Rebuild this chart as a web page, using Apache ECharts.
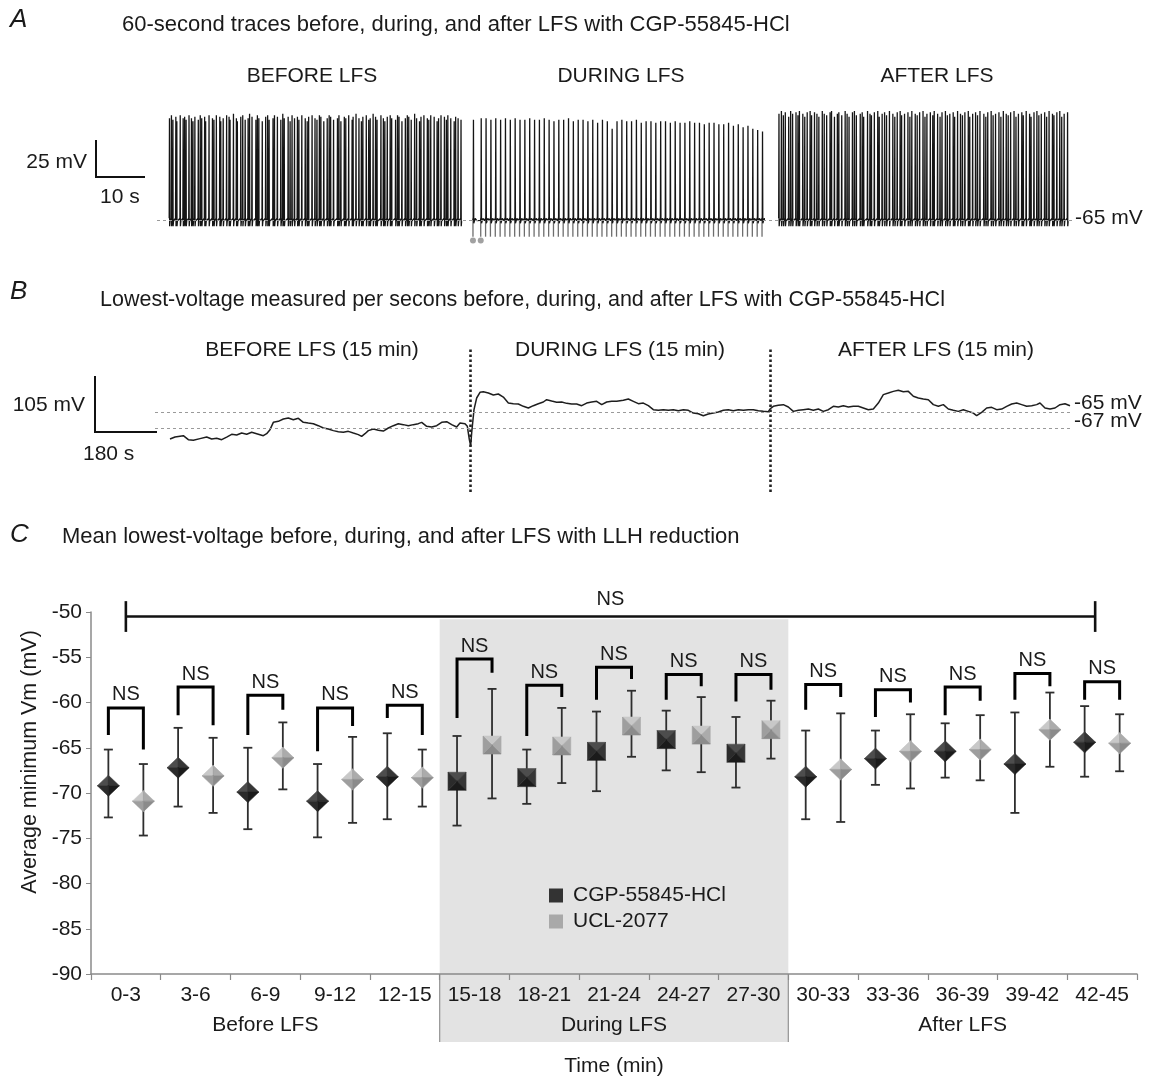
<!DOCTYPE html>
<html>
<head>
<meta charset="utf-8">
<script src="https://cdn.jsdelivr.net/npm/echarts@6/dist/echarts.min.js"></script>
<style>
  html, body { margin: 0; padding: 0; background: #fff; }
  #chart { width: 1150px; height: 1078px; }
</style>
</head>
<body>
<div id="chart"></div>
<script>
// ---------- Panel A: 60-second membrane potential traces (time s, peak mV) ----------
const spikesBefore = [
  [0.1,4],[0.5,6],[0.8,3],[1.4,5],[1.6,2],[2.3,6],[2.9,4],[3.2,5],[3.5,3],[4.1,6],[4.6,4],[4.9,2],
  [5.3,5],[6.0,3],[6.4,6],[6.7,4],[7.3,5],[7.5,2],[8.2,6],[8.9,4],[9.2,3],[9.7,6],[10.4,5],[10.6,2],
  [11.1,4],[11.8,6],[12.3,5],[12.5,3],[13.2,7],[13.8,4],[14.0,2],[14.7,5],[15.1,6],[15.6,3],[16.2,4],
  [16.5,7],[17.0,5],[17.8,3],[18.1,6],[18.4,4],[19.1,2],[19.8,5],[20.2,6],[20.5,3],[21.3,4],[21.6,6],
  [22.2,5],[22.9,3],[23.3,7],[23.6,4],[24.4,5],[24.8,2],[25.2,6],[25.7,4],[26.3,5],[26.6,3],[27.2,6],
  [27.9,4],[28.3,2],[28.6,5],[29.3,6],[29.9,4],[30.3,3],[30.8,6],[31.1,5],[31.7,2],[32.4,4],[32.8,6],
  [33.1,5],[33.7,3],[34.5,4],[34.8,6],[35.2,2],[35.9,5],[36.2,4],[36.8,6],[37.5,3],[37.7,5],[38.3,7],
  [38.9,4],[39.4,2],[39.7,5],[40.4,6],[40.9,3],[41.2,4],[41.8,7],[42.3,5],[42.6,3],[43.4,6],[43.9,4],
  [44.2,2],[44.7,5],[45.3,6],[45.6,4],[46.4,3],[46.8,6],[47.1,5],[47.7,2],[48.4,4],[48.8,6],[49.1,5],
  [49.6,3],[50.3,7],[50.7,4],[51.3,2],[51.6,5],[52.2,6],[52.9,4],[53.2,3],[53.6,6],[54.3,5],[54.9,2],
  [55.2,4],[55.7,6],[56.4,5],[56.8,3],[57.1,6],[57.7,4],[58.4,2],[58.7,5],[59.2,4],[59.8,3]
];
const stimsDuring = [
  [0.2,3],[1.8,4],[2.8,4],[3.8,3],[4.8,4],[5.8,3],[6.8,4],[7.8,3],[8.8,4],[9.8,3],[10.8,3],[11.8,4],
  [12.8,3],[13.8,3],[14.8,4],[15.8,3],[16.8,2],[17.8,3],[18.8,3],[19.8,4],[20.8,2],[21.8,3],[22.8,3],
  [23.8,2],[24.8,3],[25.8,1],[26.8,3],[27.8,2],[28.8,-3],[29.8,2],[30.8,3],[31.8,2],[32.8,2],[33.8,3],
  [34.8,1],[35.8,2],[36.8,2],[37.8,1],[38.8,2],[39.8,2],[40.8,1],[41.8,2],[42.8,1],[43.8,1],[44.8,2],
  [45.8,1],[46.8,1],[47.8,0],[48.8,1],[49.8,1],[50.8,0],[51.8,0],[52.8,1],[53.8,-1],[54.8,0],[55.8,-2],
  [56.8,-1],[57.8,-3],[58.8,-4],[59.8,-5]
];
const spikesAfter = [
  [0.2,7],[0.7,9],[1.1,6],[1.5,8],[2.2,5],[2.6,9],[3.0,7],[3.7,8],[4.1,6],[4.4,9],[5.1,7],[5.5,5],
  [6.0,8],[6.6,9],[6.9,6],[7.5,8],[8.0,7],[8.4,5],[9.1,9],[9.5,7],[10.0,6],[10.7,8],[11.0,9],[11.6,5],
  [12.2,7],[12.5,8],[13.1,6],[13.8,9],[14.2,7],[14.6,5],[15.3,8],[15.7,9],[16.1,6],[16.9,7],[17.3,8],
  [17.6,5],[18.4,9],[18.9,7],[19.2,6],[19.8,8],[20.5,9],[20.8,5],[21.4,7],[21.9,8],[22.3,6],[22.9,9],
  [23.6,7],[24.0,5],[24.5,8],[25.1,9],[25.4,6],[26.0,7],[26.7,8],[27.1,5],[27.5,9],[28.2,7],[28.6,6],
  [29.1,8],[29.8,9],[30.2,5],[30.6,7],[31.3,8],[31.8,6],[32.1,9],[32.8,7],[33.3,5],[33.7,8],[34.4,9],
  [34.8,6],[35.3,7],[36.0,8],[36.3,5],[36.9,9],[37.5,7],[37.9,6],[38.4,8],[39.1,9],[39.4,5],[40.0,7],
  [40.6,8],[41.0,6],[41.5,9],[42.3,7],[42.7,5],[43.1,8],[43.8,9],[44.2,6],[44.7,7],[45.4,8],[45.8,5],
  [46.3,9],[46.9,7],[47.3,6],[47.8,8],[48.5,9],[48.9,5],[49.4,7],[50.1,8],[50.4,6],[51.0,9],[51.7,7],
  [52.0,5],[52.6,8],[53.2,9],[53.6,6],[54.1,7],[54.8,8],[55.2,5],[55.7,9],[56.4,7],[56.7,6],[57.3,8],
  [57.9,9],[58.3,5],[58.8,7],[59.5,8]
];
const restingLevel = -65;   // mV, dotted reference in A
const markedStims = 2;      // first stimuli flagged with dots

// ---------- Panel B: lowest voltage per second (time s, mV) ----------
const lowestBefore = [
  [0,-68.38],[15,-68.13],[40,-67.96],[55,-68.46],[70,-68.54],[90,-68.33],[110,-68.13],[125,-68.38],
  [140,-68.29],[155,-68.46],[170,-68.13],[185,-67.79],[200,-67.88],[215,-67.63],[230,-67.79],[245,-67.54],
  [260,-67.71],[280,-67.96],[290,-67.71],[300,-67.21],[310,-66.29],[325,-66.17],[340,-65.88],[355,-65.75],
  [370,-65.96],[385,-65.79],[400,-66.29],[415,-66.38],[430,-66.46],[445,-66.71],[460,-67.0],[475,-67.13],
  [490,-67.33],[505,-67.46],[520,-67.54],[535,-67.42],[550,-67.63],[565,-67.83],[575,-68.04],[585,-67.71],
  [595,-67.33],[610,-67.13],[625,-67.29],[640,-67.38],[655,-67.0],[670,-66.71],[685,-66.46],[700,-66.58],
  [715,-66.71],[730,-66.58],[745,-66.46],[755,-66.29],[770,-66.79],[785,-66.88],[800,-66.71],[815,-66.29],
  [830,-66.21],[845,-66.58],[860,-66.88],[870,-66.38],[885,-66.46],[892,-66.79],[898,-68.46],[902,-69.21]
];
const lowestDuring = [
  [905,-67.63],[912,-64.71],[920,-63.25],[930,-62.54],[940,-62.46],[955,-62.63],[970,-62.88],[985,-62.75],
  [1000,-63.13],[1015,-63.88],[1030,-63.96],[1045,-64.0],[1060,-64.29],[1075,-64.5],[1090,-64.21],
  [1105,-63.96],[1120,-63.75],[1130,-63.46],[1145,-63.63],[1160,-63.79],[1175,-63.75],[1190,-63.92],
  [1205,-64.0],[1220,-64.0],[1235,-64.21],[1250,-63.88],[1265,-63.75],[1280,-63.67],[1295,-64.08],
  [1310,-63.75],[1325,-63.67],[1340,-63.67],[1360,-63.54],[1375,-63.38],[1390,-63.67],[1405,-63.96],
  [1420,-63.88],[1435,-64.21],[1450,-64.71],[1465,-64.79],[1480,-64.71],[1495,-64.79],[1510,-64.71],
  [1525,-64.83],[1540,-64.71],[1555,-64.79],[1570,-65.13],[1585,-65.21],[1600,-65.46],[1615,-65.25],
  [1630,-65.13],[1645,-65.0],[1660,-64.79],[1675,-64.71],[1690,-64.83],[1705,-64.71],[1720,-64.79],
  [1735,-64.71],[1750,-64.71],[1765,-64.83],[1780,-64.92],[1795,-64.96],[1800,-64.63]
];
const lowestAfter = [
  [1810,-64.29],[1825,-64.17],[1840,-64.08],[1855,-64.38],[1870,-64.92],[1885,-64.79],[1900,-64.71],
  [1915,-64.63],[1930,-64.79],[1945,-64.63],[1960,-64.92],[1975,-64.71],[1990,-64.29],[2005,-64.38],
  [2020,-64.21],[2035,-64.38],[2050,-64.29],[2065,-64.29],[2080,-64.5],[2095,-64.71],[2110,-64.63],
  [2125,-63.88],[2140,-62.83],[2155,-62.63],[2170,-62.42],[2185,-62.29],[2200,-62.46],[2215,-62.42],
  [2230,-63.04],[2245,-63.25],[2260,-63.38],[2275,-63.46],[2290,-64.08],[2305,-64.29],[2320,-64.08],
  [2335,-64.63],[2350,-64.79],[2365,-64.92],[2380,-64.71],[2395,-64.92],[2410,-65.13],[2420,-65.46],
  [2435,-65.04],[2450,-64.5],[2465,-64.42],[2480,-64.71],[2495,-64.63],[2510,-64.29],[2525,-64.0],
  [2540,-63.88],[2555,-64.08],[2570,-64.29],[2585,-64.21],[2600,-64.08],[2610,-63.88],[2625,-64.5],
  [2640,-64.63],[2655,-64.5],[2670,-64.08],[2685,-63.96],[2700,-64.21]
];
const phaseEdges = [900, 1800];       // s, LFS start / end
const referenceLevels = [-65, -67];   // mV

// ---------- Panel C: mean lowest voltage per 3-min bin ----------
const periods  = ['Before LFS', 'During LFS', 'After LFS'];
const timeBins = ['0-3','3-6','6-9','9-12','12-15','15-18','18-21','21-24','24-27','27-30',
                  '30-33','33-36','36-39','39-42','42-45'];
const binPeriod = [0,0,0,0,0,1,1,1,1,1,2,2,2,2,2];
const cgpMean = [-69.2,-67.2,-69.9,-70.9,-68.2,-68.7,-68.3,-65.4,-64.1,-65.6,-68.2,-66.2,-65.4,-66.8,-64.4];
const cgpLow  = [-72.7,-71.5,-74.0,-74.9,-72.9,-73.6,-71.2,-69.8,-67.5,-69.4,-72.9,-69.1,-68.3,-72.2,-68.2];
const cgpHigh = [-65.2,-62.8,-65.0,-66.8,-63.4,-63.7,-65.2,-61.0,-60.9,-61.6,-63.1,-63.1,-62.3,-61.1,-60.4];
const uclMean = [-70.9,-68.1,-66.1,-68.5,-68.3,-64.7,-64.8,-62.6,-63.6,-63.0,-67.4,-65.4,-65.2,-63.0,-64.5];
const uclLow  = [-74.7,-72.2,-69.6,-73.3,-71.5,-70.6,-68.9,-66.0,-67.7,-66.2,-73.2,-69.5,-68.6,-67.1,-67.6];
const uclHigh = [-66.8,-63.9,-62.2,-63.8,-65.2,-58.5,-60.6,-58.7,-59.4,-59.8,-61.2,-61.3,-61.4,-58.9,-61.3];
// significance brackets per bin: bar level, left arm end, right arm end (mV)
const nsTop   = [-60.6,-58.3,-59.2,-60.6,-60.3,-55.2,-58.1,-56.1,-56.9,-56.9,-58.0,-58.6,-58.3,-56.8,-57.7];
const nsLeft  = [-63.6,-61.4,-63.6,-65.4,-61.7,-61.7,-63.7,-59.7,-59.7,-59.9,-60.8,-61.6,-61.4,-59.7,-59.7];
const nsRight = [-65.2,-62.5,-60.8,-62.6,-63.6,-56.7,-59.4,-57.4,-58.2,-58.6,-59.4,-60.0,-59.8,-58.2,-59.7];
const overallSpan = [0, 13.9];   // bin index range of the overall comparison
const overallLevel = -50.5;      // mV
const seriesNames = ['CGP-55845-HCl', 'UCL-2077'];

// ---------- helpers ----------
const FONT = '"Liberation Sans", Arial, Helvetica, sans-serif';
const INK = '#1a1a1a';

function spikeTrain(spikes) {
  const pts = [];
  for (const [t, peak] of spikes) {
    pts.push([t - 0.06, -63.5], [t, peak], [t + 0.04, -69], [t + 0.12, -65.5]);
  }
  return pts;
}
function evokedTrain(stims) {
  const pts = [];
  for (const [t, peak] of stims) {
    pts.push([t - 0.05, -65], [t + 0.05, -63], [t + 0.1, peak], [t + 0.16, -67], [t + 0.45, -63.6], [t + 0.8, -65.2]);
  }
  return pts;
}
function text(x, y, str, opts) {
  opts = opts || {};
  return {
    type: 'text', x: x, y: y, rotation: opts.rotation || 0, silent: true,
    style: {
      text: str, fill: opts.color || INK,
      font: (opts.style || 'normal') + ' ' + (opts.size || 21) + 'px ' + FONT,
      textAlign: opts.align || 'left', textVerticalAlign: 'middle',
      align: opts.align || 'left', verticalAlign: 'middle'
    }
  };
}
function seg(x1, y1, x2, y2, w) {
  return { type: 'line', silent: true, shape: { x1, y1, x2, y2 }, style: { stroke: '#111', lineWidth: w || 2 } };
}

const FACES = {
  dark:  ['#4d4d4d', '#363636', '#1b1b1b', '#2b2b2b'],
  light: ['#c8c8c8', '#ababab', '#8b8b8b', '#9e9e9e']
};
function markerRender(side, faces) {
  return function (params, api) {
    const i = api.value(0);
    const c = api.coord([i, api.value(1)]);
    const lo = api.coord([i, api.value(2)]);
    const hi = api.coord([i, api.value(3)]);
    const x = c[0] + side * 17.5, y = c[1];
    const bar = { stroke: '#2e2e2e', lineWidth: 1.8 };
    const kids = [
      { type: 'line', shape: { x1: x, y1: hi[1], x2: x, y2: lo[1] }, style: bar },
      { type: 'line', shape: { x1: x - 4.5, y1: hi[1], x2: x + 4.5, y2: hi[1] }, style: bar },
      { type: 'line', shape: { x1: x - 4.5, y1: lo[1], x2: x + 4.5, y2: lo[1] }, style: bar }
    ];
    let corners;
    if (binPeriod[i] === 1) {
      const h = 9;
      corners = [[x - h, y - h], [x + h, y - h], [x + h, y + h], [x - h, y + h]];
    } else {
      const w = 11, h = 10.5;
      corners = [[x - w, y], [x, y - h], [x + w, y], [x, y + h]];
    }
    for (let k = 0; k < 4; k++) {
      kids.push({
        type: 'polygon',
        shape: { points: [corners[k], corners[(k + 1) % 4], [x, y]] },
        style: { fill: faces[k], stroke: faces[k], lineWidth: 0.6 }
      });
    }
    return { type: 'group', children: kids };
  };
}

// ---------- layout ----------
const gridsA = [
  { left: 169, top: 102, width: 293, height: 140.6 },
  { left: 472, top: 102, width: 291, height: 140.6 },
  { left: 778, top: 102, width: 292, height: 140.6 },
  { left: 157, top: 102, width: 915, height: 140.6 }
];
const gridB = { left: 155, top: 348, width: 915, height: 144 };
const gridC = { left: 91, top: 612, width: 1046, height: 363 };

const hiddenVal = (gi, min, max) => ({
  gridIndex: gi, type: 'value', min, max, show: false,
  axisLine: { show: false, onZero: false }, axisTick: { show: false }, axisLabel: { show: false }, splitLine: { show: false }
});

const duringStart = binPeriod.indexOf(1) - 0.5;
const duringEnd = binPeriod.lastIndexOf(1) + 0.5;

const option = {
  animation: false,
  backgroundColor: '#fff',
  textStyle: { fontFamily: FONT },
  grid: [...gridsA, gridB, gridC],
  xAxis: [
    hiddenVal(0, 0, 60), hiddenVal(1, 0, 60), hiddenVal(2, 0, 60), hiddenVal(3, 0, 1),
    hiddenVal(4, -45, 2700),
    {
      gridIndex: 5, type: 'category', data: timeBins, boundaryGap: true, position: 'bottom',
      axisLine: { onZero: false, lineStyle: { color: '#8a8a8a', width: 1.5 } },
      axisTick: { show: true, length: 6, lineStyle: { color: '#8a8a8a', width: 1.2 } },
      axisLabel: { fontSize: 21, color: INK, margin: 11, interval: 0, fontFamily: FONT },
      splitLine: { show: false }
    },
    hiddenVal(5, -0.5, 14.5),
    {
      gridIndex: 5, type: 'category', data: periods, boundaryGap: true, position: 'bottom',
      axisLine: { show: false, onZero: false }, axisTick: { show: false },
      axisLabel: { fontSize: 21, color: INK, margin: 41, fontFamily: FONT },
      name: 'Time (min)', nameLocation: 'middle', nameGap: 82,
      nameTextStyle: { fontSize: 21, color: INK, fontFamily: FONT }
    }
  ],
  yAxis: [
    hiddenVal(0, -80, 15), hiddenVal(1, -80, 15), hiddenVal(2, -80, 15), hiddenVal(3, -80, 15),
    hiddenVal(4, -75, -57),
    {
      gridIndex: 5, type: 'value', min: -90, max: -50, interval: 5,
      axisLine: { show: true, onZero: false, lineStyle: { color: '#8a8a8a', width: 1.5 } },
      axisTick: { show: true, length: 5, lineStyle: { color: '#8a8a8a' } },
      axisLabel: { fontSize: 21, color: INK, margin: 9, fontFamily: FONT },
      splitLine: { show: false }
    }
  ],
  legend: {
    left: 549, top: 885, padding: 0, orient: 'vertical', itemWidth: 14, itemHeight: 14, itemGap: 5,
    icon: 'rect', selectedMode: false,
    textStyle: { fontSize: 21, color: INK, fontFamily: FONT, padding: [0, 0, 0, 5] },
    data: seriesNames
  },
  series: [
    // ---- Panel A ----
    {
      type: 'line', xAxisIndex: 0, yAxisIndex: 0, data: spikeTrain(spikesBefore),
      showSymbol: false, symbol: 'none', lineStyle: { color: '#151515', width: 1.3 }, silent: true
    },
    {
      type: 'custom', xAxisIndex: 1, yAxisIndex: 1, silent: true,
      data: stimsDuring.map(s => [s[0]]),
      renderItem: (p, api) => {
        const a = api.coord([api.value(0), restingLevel]);
        const b = api.coord([api.value(0), -76]);
        return { type: 'line', shape: { x1: a[0], y1: a[1], x2: b[0], y2: b[1] }, style: { stroke: '#6e6e6e', lineWidth: 1.3 } };
      }
    },
    {
      type: 'line', xAxisIndex: 1, yAxisIndex: 1, data: evokedTrain(stimsDuring),
      showSymbol: false, symbol: 'none', lineStyle: { color: '#151515', width: 1.3 }, silent: true
    },
    {
      type: 'scatter', xAxisIndex: 1, yAxisIndex: 1, silent: true,
      data: stimsDuring.slice(0, markedStims).map(s => [s[0], -78.5]),
      symbolSize: 6, itemStyle: { color: '#8a8a8a' }
    },
    {
      type: 'line', xAxisIndex: 2, yAxisIndex: 2, data: spikeTrain(spikesAfter),
      showSymbol: false, symbol: 'none', lineStyle: { color: '#151515', width: 1.3 }, silent: true
    },
    {
      type: 'line', xAxisIndex: 3, yAxisIndex: 3, data: [], silent: true, z: 1,
      markLine: {
        silent: true, symbol: 'none', label: { show: false },
        lineStyle: { color: '#999', type: [3, 3], width: 1.2 },
        data: [{ yAxis: restingLevel }]
      }
    },
    // ---- Panel B ----
    {
      type: 'line', xAxisIndex: 4, yAxisIndex: 4,
      data: [...lowestBefore, ...lowestDuring, ...lowestAfter],
      showSymbol: false, symbol: 'none', lineStyle: { color: '#1e1e1e', width: 1.5 }, silent: true,
      markLine: {
        silent: true, symbol: 'none', label: { show: false },
        data: [
          ...referenceLevels.map(v => ({ yAxis: v, lineStyle: { color: '#9a9a9a', type: [3, 3], width: 1.2 } })),
          ...phaseEdges.map(t => ({ xAxis: t, lineStyle: { color: '#222', type: [2.5, 2.5], width: 2.6 } }))
        ]
      }
    },
    // ---- Panel C ----
    {
      type: 'custom', xAxisIndex: 6, yAxisIndex: 5, silent: true, z: -1,
      data: [[duringStart, duringEnd]],
      renderItem: (p, api) => {
        const a = api.coord([api.value(0), -50.8]);
        const b = api.coord([api.value(1), -90]);
        const bottom = b[1] + 68;
        return {
          type: 'group', children: [
            { type: 'rect', shape: { x: a[0], y: a[1], width: b[0] - a[0], height: bottom - a[1] }, style: { fill: '#e3e3e3' } },
            { type: 'line', shape: { x1: a[0], y1: b[1], x2: a[0], y2: bottom }, style: { stroke: '#9a9a9a', lineWidth: 1.3 } },
            { type: 'line', shape: { x1: b[0], y1: b[1], x2: b[0], y2: bottom }, style: { stroke: '#9a9a9a', lineWidth: 1.3 } }
          ]
        };
      }
    },
    {
      name: seriesNames[0], type: 'custom', xAxisIndex: 6, yAxisIndex: 5, silent: true,
      itemStyle: { color: '#333' },
      data: cgpMean.map((m, i) => [i, m, cgpLow[i], cgpHigh[i]]),
      renderItem: markerRender(-1, FACES.dark)
    },
    {
      name: seriesNames[1], type: 'custom', xAxisIndex: 6, yAxisIndex: 5, silent: true,
      itemStyle: { color: '#a9a9a9' },
      data: uclMean.map((m, i) => [i, m, uclLow[i], uclHigh[i]]),
      renderItem: markerRender(1, FACES.light)
    },
    {
      type: 'custom', xAxisIndex: 6, yAxisIndex: 5, silent: true,
      data: nsTop.map((t, i) => [i, t, nsLeft[i], nsRight[i]]),
      renderItem: (p, api) => {
        const i = api.value(0);
        const top = api.coord([i, api.value(1)]);
        const l = api.coord([i, api.value(2)]);
        const r = api.coord([i, api.value(3)]);
        const xl = top[0] - 17.5, xr = top[0] + 17.5;
        return {
          type: 'group', children: [
            { type: 'polyline', shape: { points: [[xl, l[1]], [xl, top[1]], [xr, top[1]], [xr, r[1]]] },
              style: { stroke: '#000', lineWidth: 3, fill: null, lineJoin: 'miter' } },
            { type: 'text', x: top[0], y: top[1] - 3,
              style: { text: 'NS', font: '20px ' + FONT, fill: INK, textAlign: 'center', align: 'center',
                       textVerticalAlign: 'bottom', verticalAlign: 'bottom' } }
          ]
        };
      }
    },
    {
      type: 'custom', xAxisIndex: 6, yAxisIndex: 5, silent: true,
      data: [[overallSpan[0], overallSpan[1], overallLevel]],
      renderItem: (p, api) => {
        const a = api.coord([api.value(0), api.value(2)]);
        const b = api.coord([api.value(1), api.value(2)]);
        const capHi = api.coord([api.value(0), api.value(2) + 1.7])[1];
        const capLo = api.coord([api.value(0), api.value(2) - 1.7])[1];
        const st = { stroke: '#111', lineWidth: 2.6 };
        return {
          type: 'group', children: [
            { type: 'line', shape: { x1: a[0], y1: a[1], x2: b[0], y2: b[1] }, style: st },
            { type: 'line', shape: { x1: a[0], y1: capHi, x2: a[0], y2: capLo }, style: st },
            { type: 'line', shape: { x1: b[0], y1: capHi, x2: b[0], y2: capLo }, style: st },
            { type: 'text', x: (a[0] + b[0]) / 2, y: a[1] - 7,
              style: { text: 'NS', font: '20px ' + FONT, fill: INK, textAlign: 'center', align: 'center',
                       textVerticalAlign: 'bottom', verticalAlign: 'bottom' } }
          ]
        };
      }
    }
  ],
  graphic: [
    // Panel A
    text(10, 20, 'A', { size: 26, style: 'italic' }),
    text(122, 25, '60-second traces before, during, and after LFS with CGP-55845-HCl', { size: 22 }),
    text(312, 76, 'BEFORE LFS', { size: 21, align: 'center' }),
    text(621, 76, 'DURING LFS', { size: 21, align: 'center' }),
    text(937, 76, 'AFTER LFS', { size: 21, align: 'center' }),
    text(87, 162, '25 mV', { size: 21, align: 'right' }),
    text(100, 197, '10 s', { size: 21 }),
    text(1075, 218, '-65 mV', { size: 21 }),
    seg(96, 140, 96, 178), seg(95, 177, 145, 177),
    // Panel B
    text(10, 292, 'B', { size: 26, style: 'italic' }),
    text(100, 300, 'Lowest-voltage measured per secons before, during, and after LFS with CGP-55845-HCl', { size: 21.5 }),
    text(312, 350, 'BEFORE LFS (15 min)', { size: 21, align: 'center' }),
    text(620, 350, 'DURING LFS (15 min)', { size: 21, align: 'center' }),
    text(936, 350, 'AFTER LFS (15 min)', { size: 21, align: 'center' }),
    text(85, 405, '105 mV', { size: 21, align: 'right' }),
    text(83, 454, '180 s', { size: 21 }),
    text(1074, 403, '-65 mV', { size: 21 }),
    text(1074, 421, '-67 mV', { size: 21 }),
    seg(95, 376, 95, 433), seg(94, 432, 157, 432),
    // Panel C
    text(10, 535, 'C', { size: 26, style: 'italic' }),
    text(62, 537, 'Mean lowest-voltage before, during, and after LFS with LLH reduction', { size: 22 }),
    text(30, 762, 'Average minimum Vm (mV)', { size: 21.5, align: 'center', rotation: Math.PI / 2 })
  ]
};

const chart = echarts.init(document.getElementById('chart'), null, { renderer: 'canvas' });
chart.setOption(option);
</script>
</body>
</html>
